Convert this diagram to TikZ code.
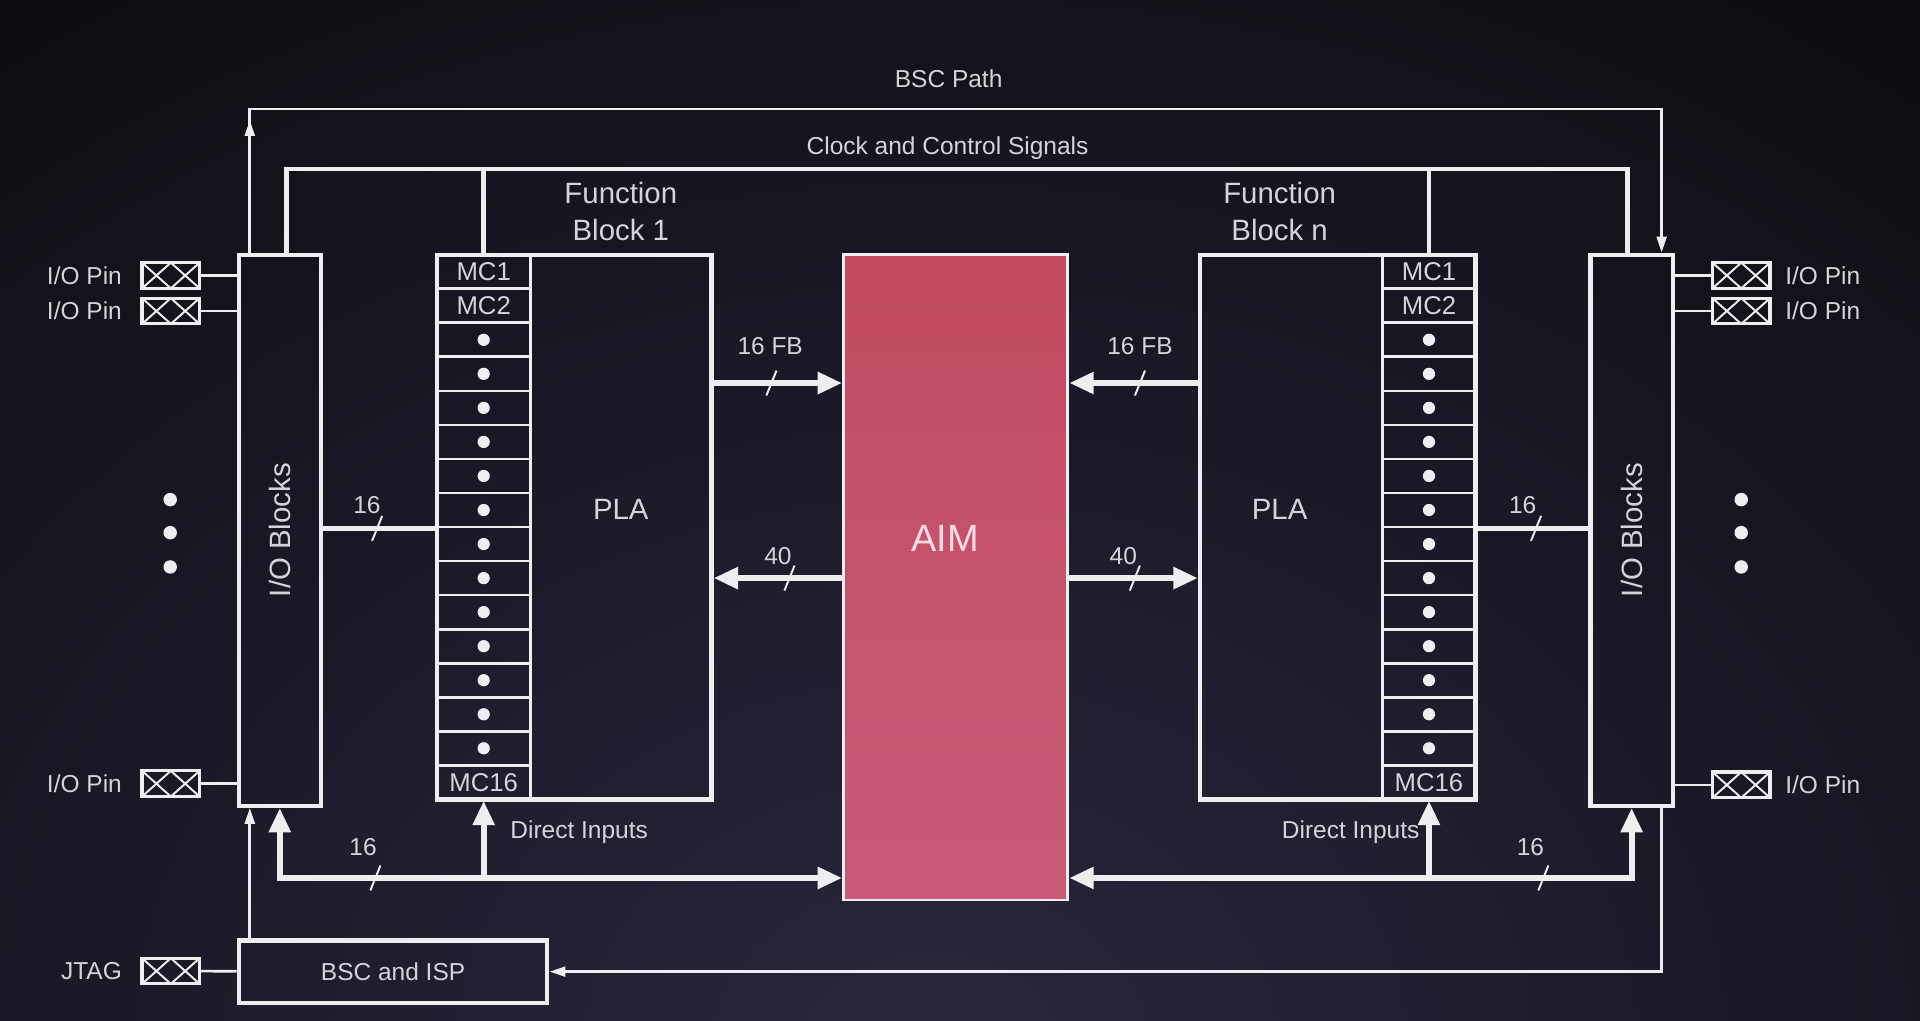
\documentclass[tikz,border=0pt]{standalone}
\usepackage{fontspec}
\setmainfont{Liberation Sans}
\usetikzlibrary{arrows.meta,positioning,calc}
\definecolor{bgtop}{RGB}{12,11,15}
\definecolor{bgmid}{RGB}{42,38,60}
\definecolor{wire}{RGB}{238,238,240}
\definecolor{txtgray}{RGB}{212,212,216}
\definecolor{aimtop}{RGB}{194,74,98}
\definecolor{aimbot}{RGB}{200,90,118}
\definecolor{aimtxt}{RGB}{250,222,228}
\newcommand{\lblfont}{\fontsize{20}{24}\selectfont}
\newcommand{\bigfont}{\fontsize{24}{30}\selectfont}
\tikzstyle{block} = [rectangle, draw=wire, line width=3.5pt, inner sep=0pt]
\tikzstyle{mccell} = [rectangle, draw=wire, line width=2.2pt, minimum width=76pt, minimum height=27.8pt, inner sep=0pt, text=txtgray, font=\fontsize{21}{21}\selectfont]
\tikzstyle{bus} = [draw=wire, line width=5pt]
\tikzstyle{busarrow} = [bus, -{Triangle[length=20pt,width=17pt]}]
\tikzstyle{busarrows} = [bus, {Triangle[length=20pt,width=17pt]}-{Triangle[length=20pt,width=17pt]}]
\tikzstyle{ctrl} = [draw=wire, line width=4pt]
\tikzstyle{thinwire} = [draw=wire, line width=2.2pt]
\tikzstyle{thinarrow} = [thinwire, -{Triangle[length=13pt,width=8pt]}]
\tikzstyle{iopin} = [rectangle, draw=wire, line width=2.6pt, minimum width=47pt, minimum height=21pt, inner sep=0pt,
  path picture={\draw[wire, line width=1.6pt] (path picture bounding box.north west) -- (path picture bounding box.south) -- (path picture bounding box.north east) (path picture bounding box.south west) -- (path picture bounding box.north) -- (path picture bounding box.south east);}]
\tikzstyle{lbl} = [text=txtgray, font=\lblfont, inner sep=0pt]
\tikzstyle{slashmark} = [fill=wire, inner sep=0pt, minimum width=22pt, minimum height=1.6pt, rotate=68]

\begin{document}
\begin{tikzpicture}[x=1pt, y=-1pt]
\useasboundingbox (0,0) rectangle (1568,833);
% background
\fill[bgtop] (0,0) rectangle (1568,833);
\begin{scope}
\clip (0,0) rectangle (1568,833);
\shade[inner color=bgmid, outer color=bgtop] (760,860) ellipse (1400pt and 1100pt);
\end{scope}

% I/O blocks
\node[block, minimum width=67pt, minimum height=450pt, label={[lbl, font=\bigfont, rotate=90]center:I/O Blocks}] (iol) at (228.5,433) {};
\node[block, minimum width=67pt, minimum height=450pt, label={[lbl, font=\bigfont, rotate=90]center:I/O Blocks}] (ior) at (1332.5,433) {};

% Function Block 1
\foreach \i in {1,...,16}
  \node[mccell] (mca\i) at (395,{194.1+27.8*\i}) {\ifnum\i<3 MC\i\fi\ifnum\i=16 MC16\fi};
\foreach \i in {3,...,15}
  \fill[wire] (mca\i) circle (5pt);
\node[block, minimum width=224pt, minimum height=445pt] (fba) at (469,430.5) {};
\node[lbl, font=\bigfont] (plaa) at (507,416) {PLA};
\node[lbl, font=\bigfont, align=center] (fbatitle) at (507,173) {Function\\Block 1};

% Function Block n
\foreach \i in {1,...,16}
  \node[mccell] (mcb\i) at (1167,{194.1+27.8*\i}) {\ifnum\i<3 MC\i\fi\ifnum\i=16 MC16\fi};
\foreach \i in {3,...,15}
  \fill[wire] (mcb\i) circle (5pt);
\node[block, minimum width=225pt, minimum height=445pt] (fbn) at (1092.5,430.5) {};
\node[lbl, font=\bigfont] (plab) at (1045,416) {PLA};
\node[lbl, font=\bigfont, align=center] (fbntitle) at (1045,173) {Function\\Block n};

% AIM
\node[rectangle, draw=wire, line width=2.4pt, top color=aimtop, bottom color=aimbot, minimum width=183pt, minimum height=527pt, inner sep=0pt] (aim) at (780.5,471.5) {};
\node[text=aimtxt, font=\fontsize{31}{31}\selectfont, inner sep=0pt] (aimlbl) at (772,440) {AIM};

% BSC and ISP
\node[block, minimum width=252pt, minimum height=51pt, font=\lblfont, text=txtgray] (bsc) at (321,793.5) {BSC and ISP};

% I/O pins
\foreach \n/\y in {1/225,2/254,3/640}{
  \node[iopin] (pinl\n) at (139.5,\y) {};
  \node[lbl, left=15pt of pinl\n] (lbll\n) {I/O Pin};
  \draw[thinwire] (pinl\n) -- (iol.west |- pinl\n);
}
\foreach \n/\y in {1/225,2/254,3/641}{
  \node[iopin] (pinr\n) at (1422,\y) {};
  \node[lbl, right=11pt of pinr\n] (lblr\n) {I/O Pin};
  \draw[thinwire] (pinr\n) -- (ior.east |- pinr\n);
}
\node[iopin] (jtag) at (139.5,793) {};
\node[lbl, left=15pt of jtag] (jtaglbl) {JTAG};
\draw[thinwire] (jtag) -- (bsc);
\foreach \y in {408,435,463}{
  \fill[wire] (139,\y) circle (5.5pt);
  \fill[wire] (1422,\y) circle (5.5pt);
}

% Clock and control
\coordinate (clkl) at (234,138);
\coordinate (clkr) at (1329,138);
\draw[ctrl] (clkl |- iol.north) -- (clkl) -- node[lbl, above=6pt, pos=0.493]{Clock and Control Signals} (clkr) -- (clkr |- ior.north);
\draw[ctrl] (mca1.north |- clkl) -- (mca1.north);
\draw[ctrl] (mcb1.north |- clkl) -- (mcb1.north);

% BSC path
\coordinate (bscl) at (204,89);
\coordinate (bscr) at (1357,89);
\draw[thinarrow] (bscl |- iol.north) -- (bscl) -- node[lbl, above=16pt, pos=0.495]{BSC Path} (bscr) -- (bscr |- ior.north);
\draw[thinarrow] (bscl |- iol.north) -- ([yshift=-9pt]bscl);
\draw[thinarrow] (bscr |- ior.south) |- (bsc.east);
\draw[thinarrow] (bscl |- bsc.north) -- (bscl |- iol.south);

% Feedback and AIM outputs
\coordinate (fbrow) at ($(mca4.center)!0.5!(mca4.south)$);
\draw[busarrow] (fba.east |- fbrow) -- node[slashmark, pos=0.45]{} node[lbl, above=21pt, pos=0.44]{16 FB} (aim.west |- fbrow);
\draw[busarrow] (fbn.west |- fbrow) -- node[slashmark, pos=0.45]{} node[lbl, above=21pt, pos=0.45]{16 FB} (aim.east |- fbrow);
\draw[busarrow] (aim.west |- mca10) -- node[slashmark, pos=0.41]{} node[lbl, above=8pt, pos=0.5]{40} (fba.east |- mca10);
\draw[busarrow] (aim.east |- mca10) -- node[slashmark, pos=0.51]{} node[lbl, above=8pt, pos=0.42]{40} (fbn.west |- mca10);

% I/O to macrocells
\draw[ctrl] (iol.east |- mca8.south) -- node[slashmark, pos=0.48]{} node[lbl, above=10pt, pos=0.39]{16} (mca8.south west);
\draw[ctrl] (mcb8.south east) -- node[slashmark, pos=0.53]{} node[lbl, above=10pt, pos=0.41]{16} (ior.west |- mcb8.south);

% Direct inputs
\coordinate (busl) at (228.5,717);
\coordinate (busr) at (1332.5,717);
\draw[busarrows] (iol.south) -- (busl) -- node[slashmark, pos=0.17]{} node[lbl, above=16pt, pos=0.148]{16} (aim.west |- busl);
\draw[busarrow] (mca16.south |- busl) -- (mca16.south);
\node[lbl] (dina) at (473,680) {Direct Inputs};
\draw[busarrows] (ior.south) -- (busr) -- node[slashmark, pos=0.157]{} node[lbl, above=16pt, pos=0.18]{16} (aim.east |- busr);
\draw[busarrow] (mcb16.south |- busr) -- (mcb16.south);
\node[lbl] (dinb) at (1103,680) {Direct Inputs};
\end{tikzpicture}
\end{document}
